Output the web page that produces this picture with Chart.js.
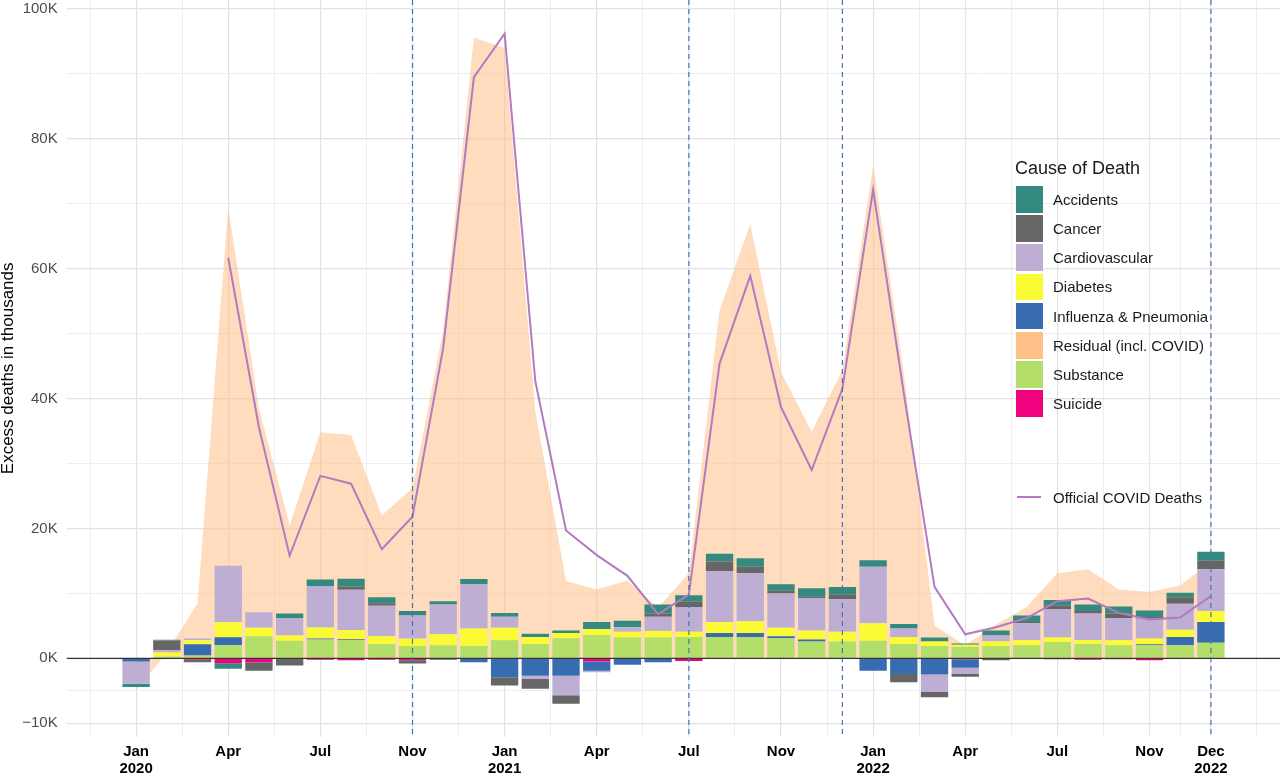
<!DOCTYPE html>
<html><head><meta charset="utf-8">
<script src="https://cdn.jsdelivr.net/npm/chart.js@4.4.1/dist/chart.umd.min.js"></script>
<style>
html,body{margin:0;padding:0;background:#fff;}
#wrap{position:relative;width:1280px;height:774px;overflow:hidden;font-family:"Liberation Sans",Arial,Helvetica,sans-serif;}
canvas{position:absolute;left:0;top:0;}
.lt{position:absolute;white-space:nowrap;color:#1a1a1a;}
.lk{position:absolute;}
</style></head>
<body><div id="wrap"><canvas id="c" width="1280" height="774"></canvas><div id="legend"></div></div>
<script>
// ---- data (values in thousands of excess deaths) ----
const months = ["Jan 2020","Feb 2020","Mar 2020","Apr 2020","May 2020","Jun 2020","Jul 2020","Aug 2020","Sep 2020","Oct 2020","Nov 2020","Dec 2020",
                "Jan 2021","Feb 2021","Mar 2021","Apr 2021","May 2021","Jun 2021","Jul 2021","Aug 2021","Sep 2021","Oct 2021","Nov 2021","Dec 2021",
                "Jan 2022","Feb 2022","Mar 2022","Apr 2022","May 2022","Jun 2022","Jul 2022","Aug 2022","Sep 2022","Oct 2022","Nov 2022","Dec 2022"];
const suicide    = [0,0,-0.2,-0.75,-0.6,-0.1,-0.2,-0.3,-0.2,-0.3,0,0, 0,0,0,-0.5,0,0,-0.4,0,0,0,0,0, 0,0,0,-0.15,0,0,-0.15,-0.2,-0.15,-0.3,0,0];
const substance  = [0,0.3,0.45,2.05,3.4,2.7,2.9,2.8,2.2,1.9,2.0,1.9, 2.8,2.2,3.1,3.6,3.2,3.2,3.3,3.3,3.3,3.1,2.6,2.6, 2.7,2.2,1.9,1.8,1.9,2.0,2.5,2.2,2.0,2.0,2.0,2.4];
const influenza  = [-0.5,0,1.7,1.2,0,0,0.15,0.15,0,0,0,-0.6, -2.9,-2.7,-2.7,-1.4,-1.0,-0.6,0,0.6,0.6,0.3,0.3,0, -1.9,-2.4,-2.5,-1.3,0,0,0,0,0,0.15,1.3,3.2];
const diabetes   = [0,0.6,0.65,2.3,1.3,0.8,1.7,1.4,1.2,1.1,1.7,2.7, 1.9,1.1,0.8,0.9,0.9,1.0,0.8,1.7,1.8,1.3,1.4,1.5, 2.7,1.1,0.7,0.3,0.7,0.8,0.7,0.6,0.8,0.9,1.1,1.7];
const cardio     = [-3.4,0.35,0.25,8.7,2.4,2.7,6.4,6.2,4.7,3.6,4.6,6.8, 1.7,-0.5,-3.0,-0.25,0.7,2.2,3.8,7.8,7.4,5.3,5.0,5.0, 8.7,1.3,-2.7,-0.9,0.9,2.6,4.4,4.1,3.4,3.1,4.0,6.4];
const cancer     = [0,1.5,-0.4,0,-1.3,-1.0,0,0.5,0.4,-0.5,-0.2,0, -1.3,-1.5,-1.3,0,0,0.5,0.8,1.5,1.0,0.4,0.2,0.7, 0,-1.3,-0.8,-0.5,-0.3,0.2,0.5,0.4,0.7,0.2,1.0,1.4];
const accidents  = [-0.5,0.1,0,-0.85,0,0.7,1.0,1.2,0.9,0.7,0.5,0.8, 0.6,0.5,0.4,1.1,1.0,1.4,1.0,1.2,1.3,1.0,1.3,1.2, 1.0,0.7,0.6,0.2,0.8,1.0,0.9,1.0,1.1,1.0,0.7,1.3];
const residualTotal = [-4.9,0.9,8.5,69.4,38.5,20.5,34.8,34.4,22.0,26.2,50.5,95.6, 94.0,38.0,11.9,10.6,12.0,7.8,13.1,53.6,66.9,44.1,34.9,44.4, 75.9,44.0,5.0,2.0,5.2,7.9,13.1,13.7,10.6,10.2,11.2,14.9];
const covidOfficial = [null,null,null,61.7,35.6,15.8,28.1,26.9,16.8,21.8,47.8,89.5, 96.2,42.7,19.7,15.9,12.7,6.8,9.8,45.4,58.9,38.7,29.0,41.5, 72.2,40.8,11.0,3.7,4.8,6.2,8.8,9.2,7.0,6.0,6.3,9.6];
const tickIndex  = [0,3,6,9,12,15,18,21,24,27,30,33,35];
const tickLabels = [["Jan","2020"],"Apr","Jul","Nov",["Jan","2021"],"Apr","Jul","Nov",["Jan","2022"],"Apr","Jul","Nov",["Dec","2022"]];
const eventIndex = [9,18,23,35];
const yTicks      = [-10,-5,0,10,20,30,40,50,60,70,80,90,100];
const yLabelTicks = [-10,0,20,40,60,80,100];
const legendNames = ["Accidents","Cancer","Cardiovascular","Diabetes","Influenza & Pneumonia","Residual (incl. COVID)","Substance","Suicide"];

// ---- styles ----
const FONT = '"Liberation Sans", Arial, Helvetica, sans-serif';
const colors = {
  "Accidents":"#348A80","Cancer":"#666666","Cardiovascular":"#BEAED4","Diabetes":"#FBFB35",
  "Influenza & Pneumonia":"#386CB0","Residual (incl. COVID)":"#FDC086","Substance":"#B3DE69","Suicide":"#F0027F"
};
const covidColor = "#B27BC0";

// minor x ticks halfway between majors plus one beyond each end
const xTicks = [];
xTicks.push(tickIndex[0] - (tickIndex[1]-tickIndex[0])/2);
tickIndex.forEach((t,k)=>{ xTicks.push(t); if(k<tickIndex.length-1) xTicks.push((t+tickIndex[k+1])/2); });
xTicks.push(tickIndex[tickIndex.length-1] + (tickIndex[1]-tickIndex[0])/2);

const pts = arr => arr.map((v,i)=>({x:i, y:v}));
const barSeries = [
  ["Suicide",suicide],["Substance",substance],["Influenza & Pneumonia",influenza],["Diabetes",diabetes],
  ["Cardiovascular",cardio],["Cancer",cancer],["Accidents",accidents]
];
const datasets = barSeries.map(([name,arr])=>({
  type:'bar', label:name, data:pts(arr), backgroundColor:colors[name], borderWidth:0,
  barPercentage:0.89, categoryPercentage:1, order:2, stack:'bars'
}));
datasets.push({type:'line', label:'Residual (incl. COVID)', data:pts(residualTotal), fill:'origin',
  backgroundColor:'rgba(253,192,134,0.55)', borderColor:'rgba(0,0,0,0)', borderWidth:0, pointRadius:0, tension:0, order:3, stack:'area'});
datasets.push({type:'line', label:'Official COVID Deaths', data:pts(covidOfficial).filter(p=>p.y!==null), fill:false,
  borderColor:covidColor, borderWidth:2, pointRadius:0, tension:0, order:1, stack:'covid'});

const decor = {
  id:'decor',
  afterDatasetsDraw(chart){
    const {ctx, chartArea:a, scales:{x,y}} = chart;
    ctx.save();
    const y0 = y.getPixelForValue(0);
    ctx.strokeStyle='#333333'; ctx.lineWidth=1.1;
    ctx.beginPath(); ctx.moveTo(a.left,y0); ctx.lineTo(a.right,y0); ctx.stroke();
    ctx.setLineDash([5,4]); ctx.strokeStyle='#4574B0'; ctx.lineWidth=1.2;
    eventIndex.forEach(i=>{ const px=x.getPixelForValue(i); ctx.beginPath(); ctx.moveTo(px,a.top); ctx.lineTo(px,a.bottom); ctx.stroke(); });
    ctx.restore();
  }
};

const fmtY = v => (v<0 ? '\u2212'+Math.abs(v) : v) + 'K';

new Chart(document.getElementById('c'), {
  type:'bar',
  data:{datasets},
  options:{
    responsive:false, devicePixelRatio:1, animation:false,
    layout:{padding:0},
    plugins:{legend:{display:false}, tooltip:{enabled:false}},
    scales:{
      x:{type:'linear', min:-2.26, max:37.25, stacked:true, offset:false,
        afterBuildTicks:s=>{ s.ticks = xTicks.map(v=>({value:v})); },
        afterFit:s=>{ s.height=37.3; s.paddingLeft=0; s.paddingRight=0; },
        ticks:{autoSkip:false, maxRotation:0, minRotation:0, padding:7, color:'#000',
          font:{family:FONT, size:15, weight:'bold', lineHeight:1.13},
          callback:v=>{ const k=tickIndex.indexOf(v); return k>=0 ? tickLabels[k] : ''; }},
        grid:{drawTicks:false, offset:false,
          color:c=> (c.tick && tickIndex.includes(c.tick.value)) ? '#e2e2e2' : '#ececec',
          lineWidth:c=> (c.tick && tickIndex.includes(c.tick.value)) ? 1.2 : 0.9},
        border:{display:false}
      },
      y:{type:'linear', min:-12.07, max:101.39, stacked:true,
        afterBuildTicks:s=>{ s.ticks = yTicks.map(v=>({value:v})); },
        afterFit:s=>{ s.width=66.7; s.paddingTop=0; s.paddingBottom=0; },
        ticks:{padding:9, color:'#4d4d4d', font:{family:FONT, size:15},
          callback:v=> yLabelTicks.includes(v) ? fmtY(v) : ''},
        grid:{drawTicks:false,
          color:c=> (c.tick && yLabelTicks.includes(c.tick.value)) ? '#e2e2e2' : '#ececec',
          lineWidth:c=> (c.tick && yLabelTicks.includes(c.tick.value)) ? 1.2 : 0.9},
        border:{display:false},
        title:{display:true, text:'Excess deaths in thousands', color:'#000', font:{family:FONT, size:17, lineHeight:1}, padding:0}
      }
    }
  },
  plugins:[decor]
});

// ---- legend ----
const lg = document.getElementById('legend');
function addText(txt, left, top, size){
  const d=document.createElement('div'); d.className='lt'; d.textContent=txt;
  d.style.left=left+'px'; d.style.top=top+'px'; d.style.fontSize=size+'px'; d.style.lineHeight=size+'px';
  lg.appendChild(d);
}
addText('Cause of Death', 1015, 158.8, 18);
legendNames.forEach((n,i)=>{
  const cy = 199.3 + i*29.2;
  const k=document.createElement('div'); k.className='lk';
  k.style.left='1016px'; k.style.top=(cy-13.3)+'px'; k.style.width='26.6px'; k.style.height='26.6px'; k.style.background=colors[n];
  lg.appendChild(k);
  addText(n, 1053, cy-7.5, 15);
});
const ln=document.createElement('div'); ln.className='lk';
ln.style.left='1017px'; ln.style.top='496.3px'; ln.style.width='24px'; ln.style.height='2px'; ln.style.background=covidColor;
lg.appendChild(ln);
addText('Official COVID Deaths', 1053, 497.3-7.5, 15);
</script>
</body></html>
